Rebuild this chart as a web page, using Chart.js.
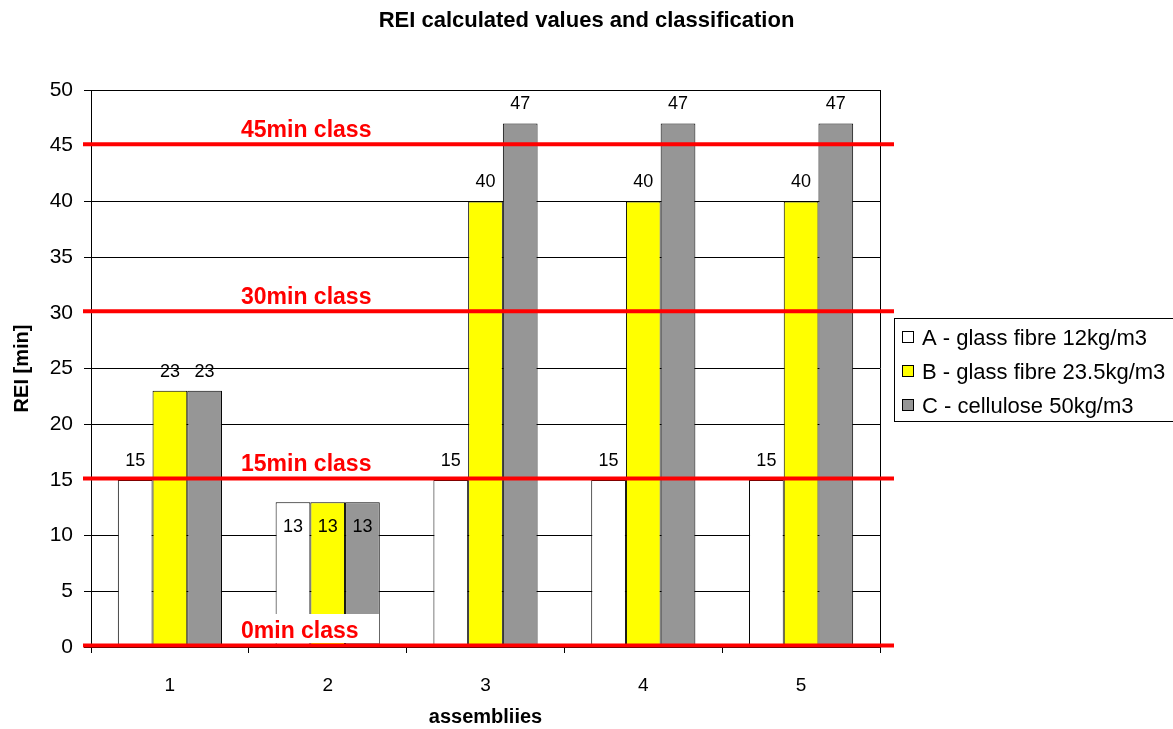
<!DOCTYPE html>
<html>
<head>
<meta charset="utf-8">
<title>REI calculated values and classification</title>
<script src="https://cdn.jsdelivr.net/npm/chart.js@4/dist/chart.umd.min.js"></script>
<style>
  html, body { margin: 0; padding: 0; background: #fff; }
  #wrap { width: 1173px; height: 729px; position: relative; }
</style>
</head>
<body>
<div id="wrap"><canvas id="rei-chart"></canvas></div>
<script>
const categories = ["1", "2", "3", "4", "5"];
const seriesNames = [
  "A - glass fibre 12kg/m3",
  "B - glass fibre 23.5kg/m3",
  "C - cellulose 50kg/m3"
];
const seriesA = [15, 13, 15, 15, 15];
const seriesB = [23, 13, 40, 40, 40];
const seriesC = [23, 13, 47, 47, 47];
const classValues = [0, 15, 30, 45];
const classLabels = ["0min class", "15min class", "30min class", "45min class"];

const FONT = "Arial, 'Liberation Sans', sans-serif";

// value labels, class lines, right frame and legend
const overlay = {
  id: "overlay",
  afterDatasetsDraw(chart) {
    const ctx = chart.ctx;
    const area = chart.chartArea;
    const y = chart.scales.y;

    // frame on the right side of the plot
    ctx.save();
    ctx.strokeStyle = "#000";
    ctx.lineWidth = 1;
    ctx.beginPath();
    ctx.moveTo(Math.round(area.right) + 0.5, area.top);
    ctx.lineTo(Math.round(area.right) + 0.5, area.bottom);
    ctx.stroke();

    // numbers on the bars
    ctx.font = "18px " + FONT;
    ctx.fillStyle = "#000";
    ctx.textAlign = "center";
    ctx.textBaseline = "middle";
    chart.data.datasets.forEach((ds, di) => {
      chart.getDatasetMeta(di).data.forEach((bar, i) => {
        const v = ds.data[i];
        const inside = v < classValues[1];
        ctx.fillText(String(v), bar.x, inside ? bar.y + 25 : bar.y - 19);
      });
    });

    // class lines
    ctx.strokeStyle = "#ff0000";
    ctx.lineWidth = 4;
    classValues.forEach((v) => {
      const py = y.getPixelForValue(v) - 1.5;
      ctx.beginPath();
      ctx.moveTo(area.left - 8, py);
      ctx.lineTo(area.right + 14, py);
      ctx.stroke();
    });

    // class labels on a white box
    ctx.font = "bold 23px " + FONT;
    ctx.textAlign = "left";
    ctx.textBaseline = "alphabetic";
    classValues.forEach((v, i) => {
      const base = y.getPixelForValue(v) - 9;
      const tx = area.left + 150;
      ctx.fillStyle = "#fff";
      ctx.fillRect(tx - 4, base - 24, 142, 29);
      ctx.fillStyle = "#ff0000";
      ctx.fillText(classLabels[i], tx, base);
    });

    // legend
    const lx = 894, ly = 318;
    ctx.fillStyle = "#fff";
    ctx.fillRect(lx, ly, 290, 103);
    ctx.strokeStyle = "#000";
    ctx.lineWidth = 1;
    ctx.strokeRect(lx + 0.5, ly + 0.5, 290, 103);
    ctx.font = "22px " + FONT;
    ctx.textBaseline = "middle";
    chart.data.datasets.forEach((ds, i) => {
      const cy = ly + 20 + i * 34;
      ctx.fillStyle = ds.backgroundColor;
      ctx.fillRect(lx + 8.5, cy - 6.5, 11, 11);
      ctx.strokeStyle = "#000";
      ctx.strokeRect(lx + 8.5, cy - 6.5, 11, 11);
      ctx.fillStyle = "#000";
      ctx.fillText(ds.label, lx + 28, cy + 1);
    });
    ctx.restore();
  }
};

function makeSet(label, data, color) {
  return {
    label: label,
    data: data,
    backgroundColor: color,
    borderColor: "#000",
    borderWidth: 1,
    barPercentage: 1,
    categoryPercentage: 0.66
  };
}

new Chart(document.getElementById("rei-chart"), {
  type: "bar",
  data: {
    labels: categories,
    datasets: [
      makeSet(seriesNames[0], seriesA, "#ffffff"),
      makeSet(seriesNames[1], seriesB, "#ffff00"),
      makeSet(seriesNames[2], seriesC, "#969696")
    ]
  },
  options: {
    responsive: true,
    maintainAspectRatio: false,
    animation: false,
    devicePixelRatio: 1,
    layout: { padding: 0 },
    plugins: {
      legend: { display: false },
      tooltip: { enabled: false },
      title: {
        display: true,
        text: "REI calculated values and classification",
        color: "#000",
        font: { family: FONT, size: 22, weight: "bold" },
        padding: { top: 8, bottom: 55.6 }
      }
    },
    scales: {
      x: {
        afterFit(scale) { scale.height = 82; },
        grid: {
          drawOnChartArea: false,
          offset: true,
          tickLength: 6,
          color: "#000"
        },
        border: { color: "#000" },
        ticks: {
          color: "#000",
          padding: 21,
          font: { family: FONT, size: 19 }
        },
        title: {
          display: true,
          text: "assembliies",
          color: "#000",
          font: { family: FONT, size: 20, weight: "bold" },
          padding: { top: 0, bottom: 0 }
        }
      },
      y: {
        min: 0,
        max: 50,
        afterFit(scale) { scale.width = 91; },
        grid: { color: "#000", tickLength: 7 },
        border: { color: "#000" },
        ticks: {
          stepSize: 5,
          color: "#000",
          padding: 11,
          font: { family: FONT, size: 21 }
        },
        title: {
          display: true,
          text: "REI [min]",
          color: "#000",
          font: { family: FONT, size: 20, weight: "bold" },
          padding: { top: 10, bottom: 0 }
        }
      },
      // empty space on the right for the legend
      side: {
        position: "right",
        afterFit(scale) { scale.width = 293; },
        grid: { drawOnChartArea: false, drawTicks: false },
        border: { display: false },
        ticks: { display: false }
      }
    }
  },
  plugins: [overlay]
});
</script>
</body>
</html>
